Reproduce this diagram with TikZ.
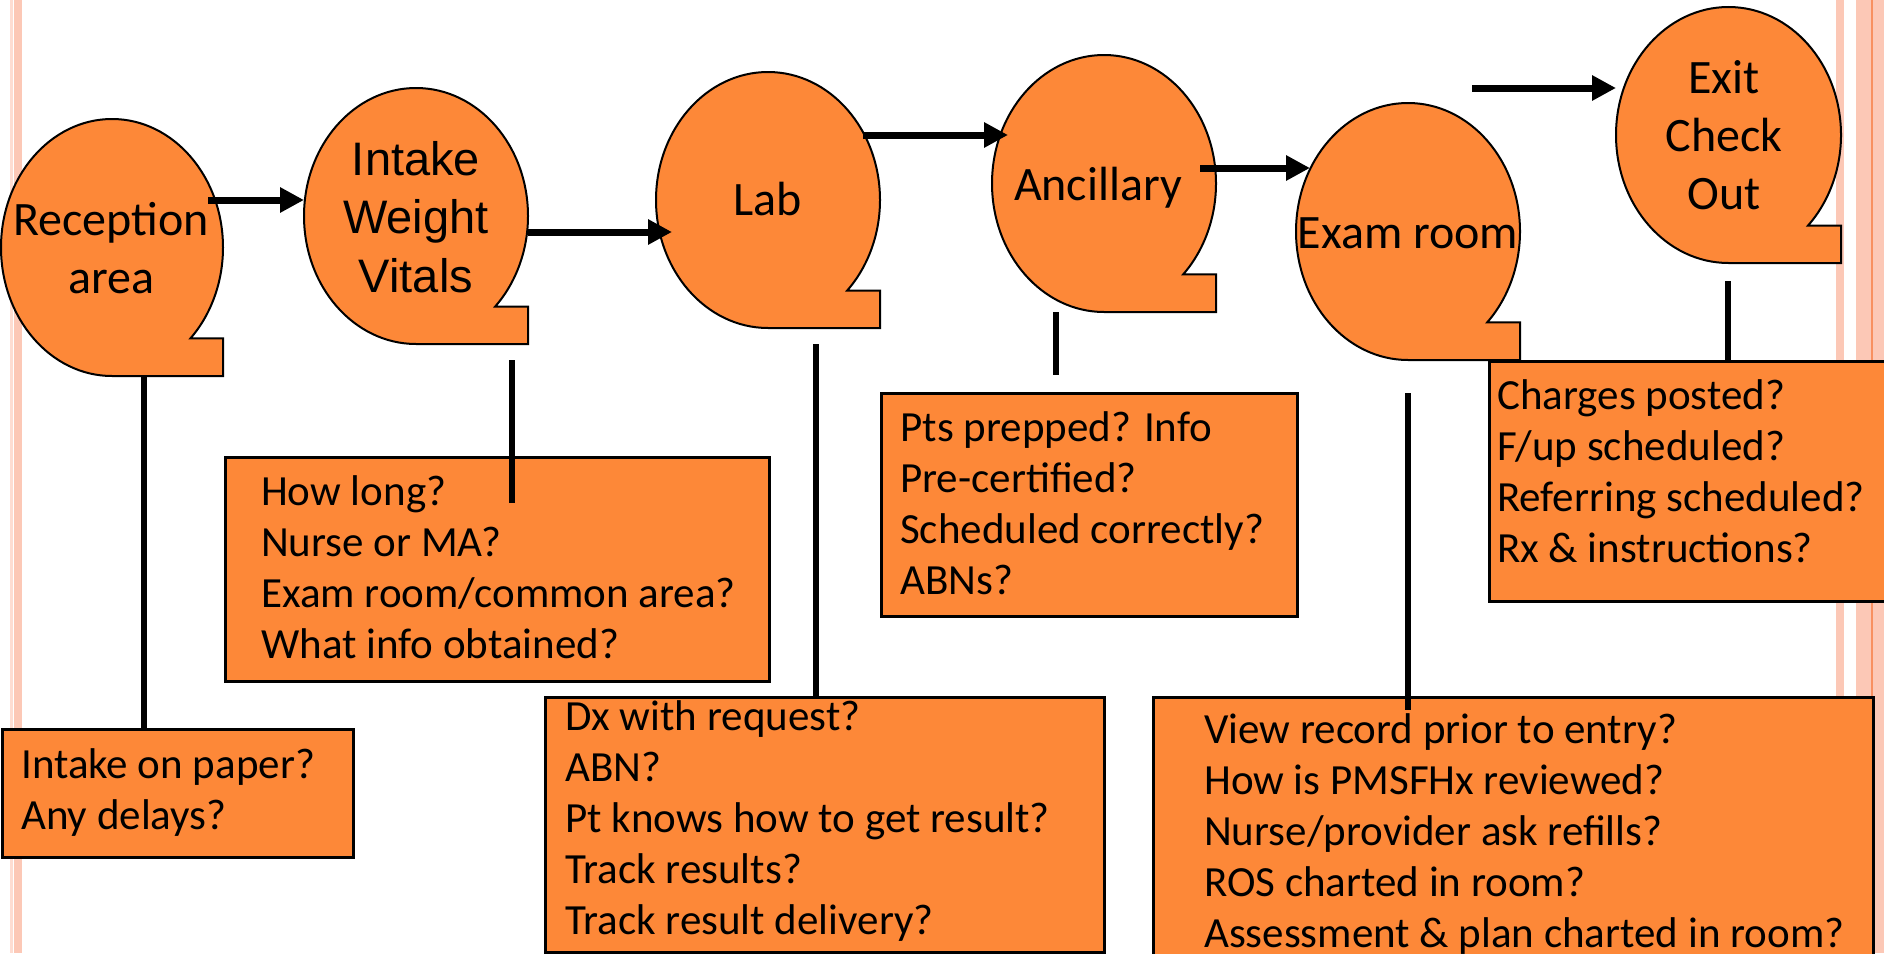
\documentclass[tikz,border=0pt]{standalone}
\usepackage{fontspec}
\setmainfont{Carlito}
\newfontfamily\arialfont{Liberation Sans}
\usetikzlibrary{arrows.meta}
\definecolor{tapeorange}{HTML}{FD8838}
\definecolor{stripepink}{HTML}{FCC8B6}
\definecolor{stripelight}{HTML}{FEDDD2}
\definecolor{stripeorange}{HTML}{F89060}
\newcommand\tapeshape[4]{%
  \filldraw[tapeline] ({#1},{#2+#4}) arc[start angle=90,end angle=405,x radius=#3,y radius=#4]
    -- ({#1+#3},{#2+0.7071*#4}) -- ({#1+#3},{#2+#4}) -- cycle;}
\newcommand\shapefont{\fontsize{48}{58}\selectfont}
\newcommand\intakefont{\fontsize{47}{58.5}\selectfont}
\newcommand\boxfont{\fontsize{43}{51}\selectfont}
\begin{document}
\begin{tikzpicture}[x=1pt,y=-1pt,
  tapeline/.style={fill=tapeorange,draw=black,line width=2pt},
  boxst/.style={rectangle,draw=black,fill=tapeorange,line width=2.5pt,inner sep=0pt,anchor=north west},
  lbl/.style={inner sep=0pt,anchor=base,font=\shapefont},
  boxtext/.style={inner sep=0pt,anchor=base west,font=\boxfont},
  arr/.style={line width=7pt,-{Triangle[length=24pt,width=24pt]}},
  conn/.style={line width=6pt}]
\useasboundingbox (0,0) rectangle (1884,953);
\clip (0,0) rectangle (1884,953);
\fill[white] (0,0) rectangle (1884,953);
% page stripes
\fill[stripelight] (10,0) rectangle (12.5,953);
\fill[stripepink] (14,0) rectangle (22,953);
\fill[stripepink] (1836,0) rectangle (1844,953);
\fill[stripepink] (1856,0) rectangle (1871,953);
\fill[stripeorange] (1871,0) rectangle (1873,953);
\fill[stripepink] (1873,0) rectangle (1884,953);
% tape shapes
\tapeshape{112}{247.5}{111}{128.5}
\tapeshape{416}{216}{112}{128}
\tapeshape{768}{200}{112}{128}
\tapeshape{1104}{183.5}{112}{128.5}
\tapeshape{1408}{231.5}{112}{128.5}
\tapeshape{1728.5}{135}{112.5}{128}
% shape labels
\node[lbl] (rec) at (111,235) {\begin{tabular}[t]{@{}c@{}}Reception\\area\end{tabular}};
\node[lbl,font=\arialfont\intakefont] (intake) at (416,175) {\begin{tabular}[t]{@{}c@{}}Intake\\Weight\\Vitals\end{tabular}};
\node[lbl] (lab) at (768,215) {Lab};
\node[lbl] (anc) at (1098,200) {Ancillary};
\node[lbl] (exam) at (1408,248) {Exam room};
\node[lbl] (exit) at (1724,93) {\begin{tabular}[t]{@{}c@{}}Exit\\Check\\Out\end{tabular}};
% question boxes
\node[boxst,minimum width=351pt,minimum height=128pt] (bA) at (1,728) {};
\node[boxst,minimum width=544pt,minimum height=224pt] (bB) at (224,456) {};
\node[boxst,minimum width=559pt,minimum height=255pt] (bC) at (544,696) {};
\node[boxst,minimum width=416pt,minimum height=223pt] (bD) at (880,392) {};
\node[boxst,minimum width=720pt,minimum height=280pt] (bE) at (1152,696) {};
\node[boxst,minimum width=420pt,minimum height=240pt] (bF) at (1488,360) {};
\node[boxtext] (tA) at (21,778) {\begin{tabular}[t]{@{}l@{}}Intake on paper?\\Any delays?\end{tabular}};
\node[boxtext] (tB) at (261,505) {\begin{tabular}[t]{@{}l@{}}How long?\\Nurse or MA?\\Exam room/common area?\\What info obtained?\end{tabular}};
\node[boxtext] (tC) at (565,730) {\begin{tabular}[t]{@{}l@{}}Dx with request?\\ABN?\\Pt knows how to get result?\\Track results?\\Track result delivery?\end{tabular}};
\node[boxtext] (tD) at (900,441) {\begin{tabular}[t]{@{}l@{}}Pts prepped? Info\\Pre-certified?\\Scheduled correctly?\\ABNs?\end{tabular}};
\node[boxtext] (tE) at (1204,743) {\begin{tabular}[t]{@{}l@{}}View record prior to entry?\\How is PMSFHx reviewed?\\Nurse/provider ask refills?\\ROS charted in room?\\Assessment \& plan charted in room?\end{tabular}};
\node[boxtext] (tF) at (1497,409) {\begin{tabular}[t]{@{}l@{}}Charges posted?\\F/up scheduled?\\Referring scheduled?\\Rx \& instructions?\end{tabular}};
% connector end points
\coordinate (a1s) at (208,200);  \coordinate (a1e) at (304,200);
\coordinate (a2s) at (528,232);  \coordinate (a2e) at (672,232);
\coordinate (a3s) at (863,135);  \coordinate (a3e) at (1008,135);
\coordinate (a4s) at (1200,168); \coordinate (a4e) at (1310,168);
\coordinate (a5s) at (1472,88);  \coordinate (a5e) at (1616,88);
\coordinate (l1s) at (144,376);  \coordinate (l1e) at (144,728);
\coordinate (l2s) at (512,360);  \coordinate (l2e) at (512,503);
\coordinate (l3s) at (816,344);  \coordinate (l3e) at (816,696);
\coordinate (l4s) at (1056,312); \coordinate (l4e) at (1056,375);
\coordinate (l5s) at (1408,393); \coordinate (l5e) at (1408,710);
\coordinate (l6s) at (1728,281); \coordinate (l6e) at (1728,360);
\draw[arr] (a1s) -- (a1e);
\draw[arr] (a2s) -- (a2e);
\draw[arr] (a3s) -- (a3e);
\draw[arr] (a4s) -- (a4e);
\draw[arr] (a5s) -- (a5e);
\draw[conn] (l1s) -- (l1e);
\draw[conn] (l2s) -- (l2e);
\draw[conn] (l3s) -- (l3e);
\draw[conn] (l4s) -- (l4e);
\draw[conn] (l5s) -- (l5e);
\draw[conn] (l6s) -- (l6e);
\end{tikzpicture}
\end{document}
